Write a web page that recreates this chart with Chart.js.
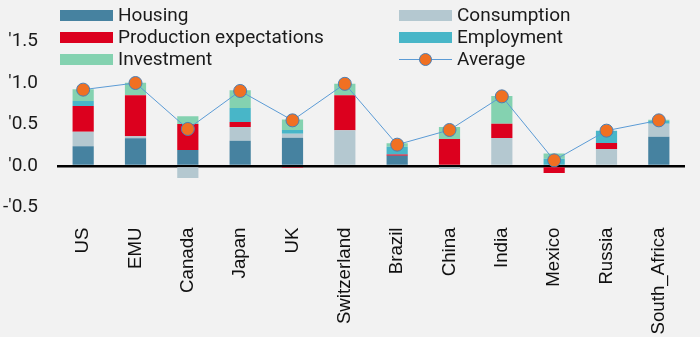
<!DOCTYPE html>
<html>
<head>
<meta charset="utf-8">
<script src="https://cdn.jsdelivr.net/npm/chart.js@4/dist/chart.umd.min.js"></script>
<style>
  html, body { margin: 0; padding: 0; background: #f2f2f2; }
  #wrap { position: relative; width: 700px; height: 337px; overflow: hidden; }
  #chart { position: absolute; left: 0; top: 0; }
  #legend { position: absolute; left: 0; top: 0; width: 700px; height: 72px; pointer-events: none;
            font-family: Roboto, "Noto Sans", sans-serif; font-size: 19px; color: #1a1a1a; }
  .item { position: absolute; height: 22px; line-height: 22px; white-space: nowrap; }
  .sw { position: absolute; left: 0; top: 5.5px; width: 53px; height: 11px; }
  .sw.line { top: 10.5px; height: 1.5px; }
  .dot { position: absolute; left: 20px; top: 4.5px; width: 11px; height: 11px; border-radius: 50%;
         border: 1px solid #4a7fb5; background: #f07022; }
  .txt { position: absolute; left: 58px; top: 0; }
</style>
</head>
<body>
<div id="wrap">
  <canvas id="chart" width="700" height="337"></canvas>
  <div id="legend"></div>
</div>
<script>
// Countries along the x axis
const categories = ['US', 'EMU', 'Canada', 'Japan', 'UK', 'Switzerland', 'Brazil',
                    'China', 'India', 'Mexico', 'Russia', 'South_Africa'];

// Contributions by component
const housing     = [0.237, 0.333, 0.193, 0.305, 0.341, 0.016, 0.124, 0.000, 0.000, 0.000, 0.016, 0.353];
const consumption = [0.177, 0.024, -0.145, 0.165, 0.048, 0.414, -0.015, -0.036, 0.337, 0.000, 0.189, 0.157];
const production  = [0.309, 0.494, 0.313, 0.060, -0.020, 0.421, 0.016, 0.325, 0.173, -0.084, 0.072, 0.000];
const employment  = [0.060, 0.000, 0.000, 0.169, 0.044, 0.000, 0.093, 0.000, 0.000, 0.088, 0.149, 0.032];
const investment  = [0.141, 0.153, 0.092, 0.213, 0.128, 0.141, 0.040, 0.145, 0.333, 0.064, 0.000, 0.016];
const average     = [0.920, 1.000, 0.446, 0.904, 0.550, 0.990, 0.257, 0.434, 0.839, 0.068, 0.426, 0.550];

// Y axis ticks and their printed labels
const yTickValues = [1.5, 1.0, 0.5, 0.0, -0.5];
const yTickLabels = ["'1.5", "'1.0", "'0.5", "'0.0", "-'0.5"];

const colors = {
  housing: '#4682a0',
  consumption: '#b4c8d0',
  production: '#dc001e',
  employment: '#48b6c8',
  investment: '#84d2b0',
  avgLine: '#5b9bd5',
  avgDot: '#f07022',
  avgBorder: '#4a7fb5'
};

function barSet(label, data, color) {
  return { type: 'bar', label, data, backgroundColor: color, borderWidth: 0,
           stack: 'parts', order: 1, barPercentage: 0.405, categoryPercentage: 1.0 };
}

const datasets = [
  barSet('Housing', housing, colors.housing),
  barSet('Consumption', consumption, colors.consumption),
  barSet('Production expectations', production, colors.production),
  barSet('Employment', employment, colors.employment),
  barSet('Investment', investment, colors.investment),
  { type: 'line', label: 'Average', data: average, stack: 'avg', order: 0,
    borderColor: colors.avgLine, borderWidth: 1, tension: 0,
    pointRadius: 6.5, pointHoverRadius: 6.5, pointBackgroundColor: colors.avgDot,
    pointBorderColor: colors.avgBorder, pointBorderWidth: 1 }
];

const chart = new Chart(document.getElementById('chart'), {
  data: { labels: categories, datasets },
  options: {
    responsive: false,
    animation: false,
    layout: { padding: { top: 41.5, right: 15, bottom: 0, left: 0 } },
    plugins: { legend: { display: false }, tooltip: { enabled: false } },
    scales: {
      x: {
        stacked: true,
        grid: { display: false },
        border: { display: false },
        ticks: {
          minRotation: 90, maxRotation: 90, padding: 12, color: '#111',
          font: { family: '"Liberation Sans", Arial, sans-serif', size: 18.7 }
        },
        afterFit: s => { s.height = 129.5; }
      },
      y: {
        stacked: true,
        min: -0.5, max: 1.5,
        border: { display: false },
        grid: {
          drawTicks: false,
          color: c => (c.tick && c.tick.value === 0) ? '#000' : 'rgba(0,0,0,0)',
          lineWidth: c => (c.tick && c.tick.value === 0) ? 2.5 : 0
        },
        afterBuildTicks: s => { s.ticks = yTickValues.map(v => ({ value: v })); },
        ticks: {
          padding: 19, color: '#1a1a1a',
          font: { family: 'Roboto, sans-serif', size: 19 },
          callback: v => {
            const i = yTickValues.findIndex(t => Math.abs(t - v) < 1e-9);
            return i >= 0 ? yTickLabels[i] : '';
          }
        },
        afterFit: s => { s.width = 57; }
      }
    }
  }
});

// Two-column legend built from the chart's datasets
const legend = document.getElementById('legend');
const colX = [60, 399];
const rowY = [4, 26, 48];
chart.data.datasets.forEach((ds, i) => {
  const item = document.createElement('div');
  item.className = 'item';
  item.style.left = colX[i % 2] + 'px';
  item.style.top = rowY[Math.floor(i / 2)] + 'px';
  if (ds.type === 'line') {
    item.innerHTML = '<div class="sw line" style="background:' + ds.borderColor + '"></div>' +
                     '<div class="dot"></div>';
  } else {
    item.innerHTML = '<div class="sw" style="background:' + ds.backgroundColor + '"></div>';
  }
  const t = document.createElement('div');
  t.className = 'txt';
  t.textContent = ds.label;
  item.appendChild(t);
  legend.appendChild(item);
});
</script>
</body>
</html>
